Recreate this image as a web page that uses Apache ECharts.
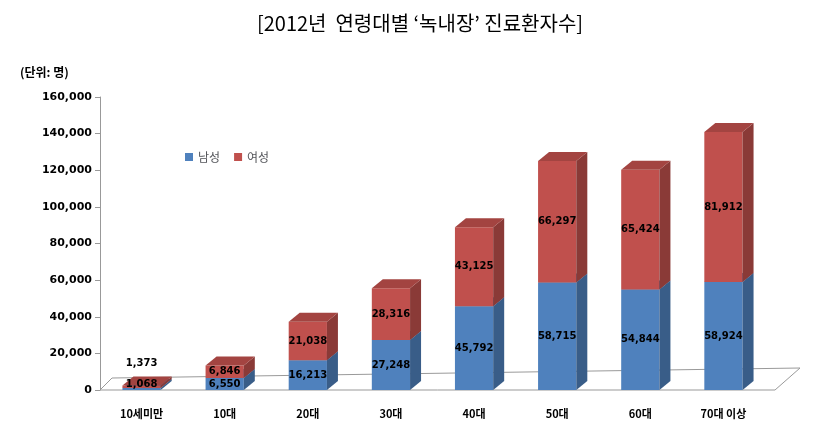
<!DOCTYPE html>
<html><head><meta charset="utf-8">
<script src="https://cdn.jsdelivr.net/npm/echarts@6/dist/echarts.min.js"></script>
<style>body{margin:0;background:#fff}#c{width:840px;height:440px}</style>
</head><body><div id="c"></div>
<script>
const categories=['10세미만','10대','20대','30대','40대','50대','60대','70대 이상'];
const male=[1068,6550,16213,27248,45792,58715,54844,58924];
const female=[1373,6846,21038,28316,43125,66297,65424,81912];
const yTicks=[0,20000,40000,60000,80000,100000,120000,140000,160000];

function shade(hex,f){const n=parseInt(hex.slice(1),16);let r=(n>>16)&255,g=(n>>8)&255,b=n&255;
 return 'rgb('+Math.round(r*f)+','+Math.round(g*f)+','+Math.round(b*f)+')';}
function make3d(color){
 return function(params,api){
  const x=api.value(0),b=api.value(1),v=api.value(2);
  const p0=api.coord([x,b]),p1=api.coord([x,b+v]);
  const w=api.size([1,0])[0]*0.46,dx=11,dy=9;
  const l=p0[0]-w/2,r=p0[0]+w/2;
  let ly=(p0[1]+p1[1])/2;
  if(x===0) ly = params.seriesIndex===0 ? p0[1]-6 : p1[1]-22;
  return {type:'group',children:[
   {type:'rect',shape:{x:l,y:p1[1],width:w,height:p0[1]-p1[1]},style:{fill:color}},
   {type:'polygon',shape:{points:[[r,p1[1]],[r+dx,p1[1]-dy],[r+dx,p0[1]-dy],[r,p0[1]]]},style:{fill:shade(color,0.72)}},
   {type:'polygon',shape:{points:[[l,p1[1]],[l+dx,p1[1]-dy],[r+dx,p1[1]-dy],[r,p1[1]]]},style:{fill:shade(color,0.85)}},
   {type:'text',z2:10,style:{text:v.toLocaleString('en-US'),x:p0[0],y:ly,align:'center',verticalAlign:'middle',font:'bold 10px "DejaVu Sans"',fill:'#000'}}
  ]};
 };
}
const chart=echarts.init(document.getElementById('c'));
chart.setOption({
 animation:false,
 title:{text:'[2012년  연령대별 ‘녹내장’ 진료환자수]',left:'center',top:8,textStyle:{fontFamily:'Noto Sans CJK KR',fontSize:20,fontWeight:'normal',color:'#000'}},
 graphic:[{type:'text',left:20,top:66,style:{text:'(단위: 명)',font:'bold 12px "Noto Sans CJK KR"',fill:'#000'}},
  {type:'polygon',z:-1,shape:{points:[[112,378],[800,368],[775,390],[100,390]]},style:{fill:'#fff',stroke:'#999'}}],
 legend:{left:180,top:146,itemWidth:8,itemHeight:8,itemGap:14,textStyle:{fontFamily:'Noto Sans CJK KR',fontSize:12},
  data:[{name:'남성',icon:'rect',itemStyle:{color:'#4F81BD'}},{name:'여성',icon:'rect',itemStyle:{color:'#C0504D'}}]},
 grid:{left:100,right:75,top:97,bottom:50},
 xAxis:{type:'category',data:categories,axisLine:{show:false},axisTick:{show:false},
  axisLabel:{fontFamily:'Noto Sans CJK KR',fontWeight:'bold',fontSize:11,color:'#000',margin:18}},
 yAxis:{type:'value',min:0,max:160000,interval:20000,splitLine:{show:false},axisLine:{show:true,lineStyle:{color:'#999'}},axisTick:{show:true},
  axisLabel:{fontFamily:'DejaVu Sans',fontWeight:'bold',fontSize:11,color:'#000',formatter:v=>v.toLocaleString('en-US')}},
 series:[
  {name:'남성',type:'custom',itemStyle:{color:'#4F81BD'},renderItem:make3d('#4F81BD'),encode:{x:0,y:[1,2]},data:male.map((v,i)=>[i,0,v])},
  {name:'여성',type:'custom',itemStyle:{color:'#C0504D'},renderItem:make3d('#C0504D'),encode:{x:0,y:[1,2]},data:female.map((v,i)=>[i,male[i],v])}
 ]
});
</script></body></html>
